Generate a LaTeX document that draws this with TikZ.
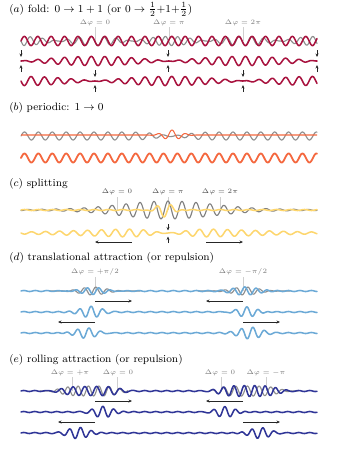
\documentclass[tikz,border=0pt]{standalone}
\usetikzlibrary{arrows.meta}
\definecolor{wred}{HTML}{A8123E}
\definecolor{wgray}{HTML}{8E8E8E}
\definecolor{worange}{HTML}{F4683F}
\definecolor{wyellow}{HTML}{FDD66E}
\definecolor{wblue}{HTML}{6BA9D6}
\definecolor{wnavy}{HTML}{2F3597}
\definecolor{ticklc}{HTML}{CFCFCF}
\definecolor{labc}{HTML}{7A7A7A}
\begin{document}
\begin{tikzpicture}[x=0.75pt,y=-0.75pt,
  declare function={
    G(\m,\s,\q)=exp(-(min(abs((\q-\m)/\s),6))^2);
    SG(\m,\s,\q)=exp(-(min(abs((\q-\m)/\s),3))^4);
  },
  wv/.style={line width=1.15pt,line join=round,line cap=round},
  gw/.style={line width=0.85pt,line join=round,line cap=round,draw=wgray},
  arr/.style={line width=0.45pt,draw=black!85,-{Stealth[length=2.6pt,width=2.2pt]}},
  tk/.style={line width=0.6pt,draw=ticklc},
  ttl/.style={anchor=base west,inner sep=0pt,font=\fontsize{8}{9.6}\selectfont},
  lab/.style={anchor=base,inner sep=0pt,text=labc,font=\fontsize{5.5}{6.6}\selectfont},
]
\useasboundingbox (0,0) rectangle (338,450);

% ---------------- (a)
\node[ttl] (ta) at (9,12) {$(a)$ fold: $0\to1+1$ (or $0\to\frac{1}{2}{+}1{+}\frac{1}{2}$)};
\node[lab] (la1) at (95,24) {$\Delta\varphi=0$};
\node[lab] (la2) at (169,24) {$\Delta\varphi=\pi$};
\node[lab] (la3) at (243,24) {$\Delta\varphi=2\pi$};
\foreach \xx in {95,169,243} \draw[tk] (\xx,27) -- (\xx,41);
\draw[gw] plot[domain=21:317,samples=500,variable=\t] (\t,{41-4.6*abs(cos((\t-95)/74*180))*sin((\t-21)/13.4*360+(\t-95)/74*180)});
\draw[wv,wred] plot[domain=21:317,samples=500,variable=\t] (\t,{41-4.6*sin((\t-21)/13.4*360)});
\draw[wv,wred] plot[domain=21:317,samples=500,variable=\t] (\t,{61-4.6*cos((\t-95)/74*90)*sin((\t-21)/13.4*360)});
\draw[wv,wred] plot[domain=21:317,samples=500,variable=\t] (\t,{81-4.6*sin((\t-95)/74*90)*sin((\t-21)/13.4*360)});
\foreach \xx in {21,168,317} {\draw[arr] (\xx,50) -- (\xx,57); \draw[arr] (\xx,72) -- (\xx,65);}
\foreach \xx in {95,243} {\draw[arr] (\xx,70) -- (\xx,77); \draw[arr] (\xx,92) -- (\xx,85);}

% ---------------- (b)
\node[ttl] (tb) at (9,110.5) {$(b)$ periodic: $1\to0$};
\draw[gw] plot[domain=21:317,samples=500,variable=\t] (\t,{136-4*(1-0.85*G(172,20,\t))*sin((\t-21)/13.9*360)});
\draw[line width=0.8pt,worange,line join=round] plot[domain=21:317,samples=500,variable=\t] (\t,{135-5*G(172,12,\t)*cos((\t-172)/13.9*360)});
\draw[line width=1.35pt,worange,line join=round,line cap=round] plot[domain=21:317,samples=500,variable=\t] (\t,{158-4.5*sin((\t-21)/13.9*360)});

% ---------------- (c)
\node[ttl] (tc) at (9,186) {$(c)$ splitting};
\node[lab,text=black!70] (lc1) at (117,193) {$\Delta\varphi=0$};
\node[lab,text=black!70] (lc2) at (168,193) {$\Delta\varphi=\pi$};
\node[lab,text=black!70] (lc3) at (220,193) {$\Delta\varphi=2\pi$};
\foreach \xx in {117,168,220} \draw[tk] (\xx,197) -- (\xx,210);
\draw[gw,draw=black!50] plot[domain=21:317,samples=500,variable=\t] (\t,{210-(8.5*G(168,66,\t)+0.5)*cos((\t-168)/14*360)});
\draw[wv,wyellow] plot[domain=21:317,samples=500,variable=\t] (\t,{210-(7.5*G(165,11,\t)*cos((\t-157)/14*360)+0.5*sin((\t-21)/14*360))});
\draw[wv,wyellow] plot[domain=21:317,samples=500,variable=\t] (\t,{233-(4.2*(1-G(168,22,\t))*G(168,110,\t)+0.3)*sin((\t-168)/14*360)});
\draw[arr] (168,224) -- (168,230.5);
\draw[arr] (168,243) -- (168,236.5);
\draw[arr] (132,242) -- (95,242);
\draw[arr] (206,242) -- (243,242);

% ---------------- (d)
\node[ttl] (td) at (9,260.5) {$(d)$ translational attraction (or repulsion)};
\node[lab] (ld1) at (95,273) {$\Delta\varphi=+\pi/2$};
\node[lab] (ld2) at (243,273) {$\Delta\varphi=-\pi/2$};
\foreach \xx in {95,243} \draw[tk] (\xx,277) -- (\xx,291);
\draw[gw] plot[domain=50:140,samples=160,variable=\t] (\t,{291-4*G(93,18,\t)*sin((\t-93)/11.5*360)});
\draw[gw] plot[domain=198:290,samples=160,variable=\t] (\t,{291-4*G(245,18,\t)*sin((\t-245)/11.5*360)});
\draw[wv,wblue] plot[domain=21:317,samples=550,variable=\t] (\t,{291-(4*G(93,18,\t)*sin((\t-93)/11.5*360-90)+4*G(245,18,\t)*sin((\t-245)/11.5*360+90)+0.5*sin((\t-21)/11.5*360))});
\draw[wv,wblue] plot[domain=21:317,samples=550,variable=\t] (\t,{312-(5.5*G(91,14,\t)*cos((\t-91)/11.5*360)+5.5*G(247,14,\t)*cos((\t-247)/11.5*360)+0.5*sin((\t-21)/11.5*360))});
\draw[wv,wblue] plot[domain=21:317,samples=550,variable=\t] (\t,{333-(5.5*G(86,15,\t)*sin((\t-86)/11.5*360)+5.5*G(250,15,\t)*sin((\t-250)/11.5*360)+0.5*sin((\t-21)/11.5*360))});
\draw[arr] (95,301) -- (132,301);
\draw[arr] (243,301) -- (206,301);
\draw[arr] (95,322) -- (58,322);
\draw[arr] (243,322) -- (280,322);

% ---------------- (e)
\node[ttl] (te) at (9,362) {$(e)$ rolling attraction (or repulsion)};
\node[lab] (le1) at (70,374) {$\Delta\varphi=+\pi$};
\node[lab] (le2) at (118,374) {$\Delta\varphi=0$};
\node[lab] (le3) at (220,374) {$\Delta\varphi=0$};
\node[lab] (le4) at (266,374) {$\Delta\varphi=-\pi$};
\foreach \xx in {72,117,221,266} \draw[tk] (\xx,377) -- (\xx,391);
\draw[gw] plot[domain=40:128,samples=180,variable=\t] (\t,{391-5*SG(90,33,\t)*sin((\t-117)/11*360-(117-\t)/45*90)});
\draw[gw] plot[domain=210:298,samples=180,variable=\t] (\t,{391-5*SG(248,33,\t)*sin((\t-221)/11*360-(\t-221)/45*90)});
\draw[wv,wnavy] plot[domain=21:317,samples=550,variable=\t] (\t,{391-(5*SG(90,33,\t)*sin((\t-117)/11*360+(117-\t)/45*90)+5*SG(248,33,\t)*sin((\t-221)/11*360+(\t-221)/45*90)+0.5*sin((\t-21)/11*360))});
\draw[wv,wnavy] plot[domain=21:317,samples=550,variable=\t] (\t,{412-(5.5*G(103,13,\t)*cos((\t-103)/11*360)+5.5*G(225,13,\t)*cos((\t-225)/11*360)+0.5*sin((\t-21)/11*360))});
\draw[wv,wnavy] plot[domain=21:317,samples=550,variable=\t] (\t,{433-(5.5*G(78,14,\t)*sin((\t-78)/11*360)+5.5*G(260,14,\t)*sin((\t-260)/11*360)+0.5*sin((\t-21)/11*360))});
\draw[arr] (95,401) -- (132,401);
\draw[arr] (243,401) -- (206,401);
\draw[arr] (95,422) -- (58,422);
\draw[arr] (243,422) -- (280,422);
\end{tikzpicture}
\end{document}
